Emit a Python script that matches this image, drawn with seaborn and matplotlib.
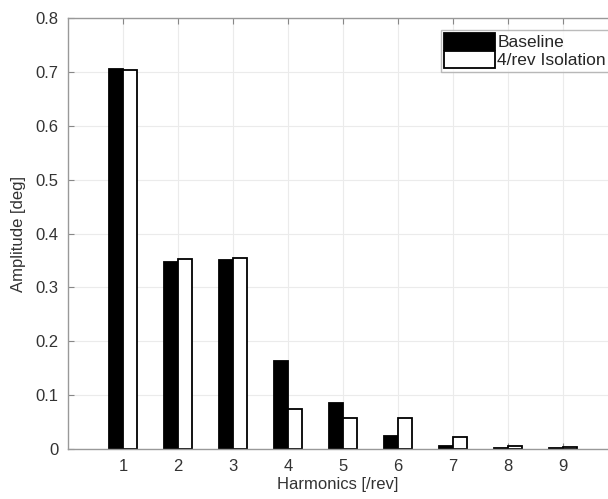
import pandas as pd
import numpy as np
import matplotlib.pyplot as plt
import seaborn as sns

# Values
harmonics = [1, 2, 3, 4, 5, 6, 7, 8, 9]
baseline = [0.705, 0.347, 0.351, 0.163, 0.085, 0.024, 0.006, 0.002, 0.002]
isolation = [0.703, 0.353, 0.355, 0.075, 0.058, 0.057, 0.023, 0.005, 0.003]
series_names = ["Baseline", "4/rev Isolation"]

df = pd.DataFrame({
    "harmonic": harmonics * 2,
    "amplitude": baseline + isolation,
    "case": [series_names[0]] * len(baseline) + [series_names[1]] * len(isolation),
})

sns.set_style("white")
plt.rcParams["font.family"] = ["Liberation Sans", "DejaVu Sans"]

fig = plt.figure(figsize=(6.08, 4.99), dpi=100)
ax = fig.add_axes([0.112, 0.100, 0.888, 0.864])

sns.barplot(
    data=df, x="harmonic", y="amplitude", hue="case",
    palette={"Baseline": "black", "4/rev Isolation": "white"},
    native_scale=True, width=0.5, gap=0.0,
    edgecolor="black", linewidth=1.3, ax=ax, errorbar=None,
)

ax.set_xlim(0, 9.82)
ax.set_ylim(0, 0.8)
ax.set_xticks(harmonics)
ax.set_xticklabels([str(h) for h in harmonics])
ax.set_yticks(np.arange(0, 0.81, 0.1))
ax.set_yticklabels(["0", "0.1", "0.2", "0.3", "0.4", "0.5", "0.6", "0.7", "0.8"])
ax.grid(True, color="#ebebeb", linewidth=0.8)
ax.set_axisbelow(True)
ax.tick_params(direction="in", top=True, left=True, bottom=True, length=4,
               color="#888888", labelsize=12, labelcolor="#333333", pad=7)
for s in ax.spines.values():
    s.set_color("#999999")
    s.set_linewidth(1.0)
ax.spines["right"].set_visible(False)

ax.set_xlabel("Harmonics [/rev]", fontsize=12, color="#333333", labelpad=2)
ax.set_ylabel("Amplitude [deg]", fontsize=12, color="#333333", labelpad=7)

leg = ax.legend(loc="upper right", bbox_to_anchor=(1.012, 0.985), fontsize=12.5,
                frameon=True, fancybox=False, handlelength=2.9, handleheight=1.1,
                borderpad=0.2, labelspacing=0.05, handletextpad=0.15,
                borderaxespad=0.3)
leg.get_frame().set_edgecolor("#aaaaaa")
leg.get_frame().set_linewidth(1.0)

plt.savefig("out.png", dpi=100)
